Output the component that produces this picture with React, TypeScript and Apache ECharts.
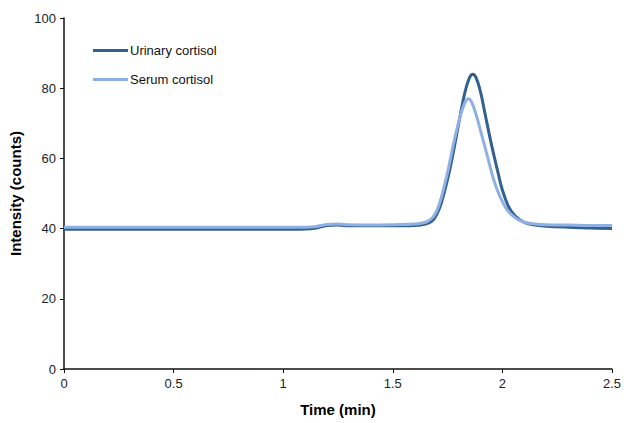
import React, { useEffect, useRef } from "react";
import * as echarts from "echarts";

const seriesNames = ["Urinary cortisol", "Serum cortisol"];

const urinaryTime = [0, 0.5, 1.0, 1.1, 1.15, 1.2, 1.25, 1.3, 1.4, 1.5, 1.6, 1.65, 1.68, 1.7, 1.72, 1.75, 1.78, 1.81, 1.83, 1.85, 1.865, 1.88, 1.9, 1.92, 1.95, 1.98, 2.0, 2.03, 2.06, 2.1, 2.15, 2.2, 2.3, 2.4, 2.5];
const urinaryValues = [39.8, 39.8, 39.8, 39.9, 40.2, 40.9, 41.0, 40.8, 40.8, 40.8, 40.9, 41.3, 42.2, 44, 47, 54, 63, 73, 79, 83, 84, 83, 79, 73, 64, 56, 51, 46, 43.5, 41.8, 41.0, 40.7, 40.4, 40.2, 40.0];

const serumTime = [0, 0.5, 1.0, 1.1, 1.15, 1.2, 1.25, 1.3, 1.4, 1.5, 1.6, 1.65, 1.68, 1.7, 1.72, 1.75, 1.78, 1.81, 1.83, 1.845, 1.86, 1.88, 1.9, 1.93, 1.96, 1.99, 2.02, 2.06, 2.1, 2.15, 2.2, 2.3, 2.4, 2.5];
const serumValues = [40.4, 40.4, 40.4, 40.4, 40.6, 41.2, 41.3, 41.1, 41.0, 41.1, 41.3, 41.8, 43, 45, 48.5, 56, 65, 72.5, 76, 77, 76, 72.5, 68, 61, 54, 49, 45.5, 43, 41.8, 41.3, 41.1, 41.0, 40.9, 40.9];

const colors = ["#33618f", "#8fb0e3"];

export default function App() {
  const ref = useRef<HTMLDivElement>(null);
  useEffect(() => {
    if (!ref.current) return;
    const chart = echarts.init(ref.current, null, { renderer: "svg" });
    const font = "Liberation Sans, Arial, sans-serif";
    chart.setOption({
      animation: false,
      textStyle: { fontFamily: font },
      grid: { left: 64, right: 10, top: 18, bottom: 54 },
      legend: {
        orient: "vertical",
        left: 88,
        top: 39,
        itemGap: 16,
        itemWidth: 35,
        itemHeight: 3,
        icon: "rect",
        textStyle: { fontSize: 13, color: "#111", fontFamily: font, padding: [0, 0, 0, -3] },
        data: seriesNames,
      },
      xAxis: {
        type: "value",
        min: 0,
        max: 2.5,
        interval: 0.5,
        name: "Time (min)",
        nameLocation: "middle",
        nameGap: 33,
        nameTextStyle: { fontSize: 15, fontWeight: "bold", color: "#000", fontFamily: font },
        axisLine: { lineStyle: { color: "#111", width: 1.5 } },
        axisTick: { show: true, inside: false, length: 4, lineStyle: { color: "#111" } },
        axisLabel: { fontSize: 13, color: "#222", margin: 8, fontFamily: font },
        splitLine: { show: false },
      },
      yAxis: {
        type: "value",
        min: 0,
        max: 100,
        interval: 20,
        name: "Intensity (counts)",
        nameLocation: "middle",
        nameGap: 40,
        nameTextStyle: { fontSize: 15, fontWeight: "bold", color: "#000", fontFamily: font },
        axisLine: { show: true, lineStyle: { color: "#111", width: 1.5 } },
        axisTick: { show: true, inside: false, length: 4, lineStyle: { color: "#111" } },
        axisLabel: { fontSize: 13, color: "#222", margin: 8, fontFamily: font },
        splitLine: { show: false },
      },
      series: [
        {
          name: seriesNames[0],
          type: "line",
          smooth: 0.4,
          showSymbol: false,
          symbol: "none",
          lineStyle: { color: colors[0], width: 3 },
          itemStyle: { color: colors[0] },
          data: urinaryTime.map((t, i) => [t, urinaryValues[i]]),
          z: 2,
        },
        {
          name: seriesNames[1],
          type: "line",
          smooth: 0.4,
          showSymbol: false,
          symbol: "none",
          lineStyle: { color: colors[1], width: 3 },
          itemStyle: { color: colors[1] },
          data: serumTime.map((t, i) => [t, serumValues[i]]),
          z: 3,
        },
      ],
    });
    return () => chart.dispose();
  }, []);
  return <div ref={ref} style={{ width: 624, height: 423, position: "absolute", left: 0, top: 0, background: "#fff" }} />;
}
